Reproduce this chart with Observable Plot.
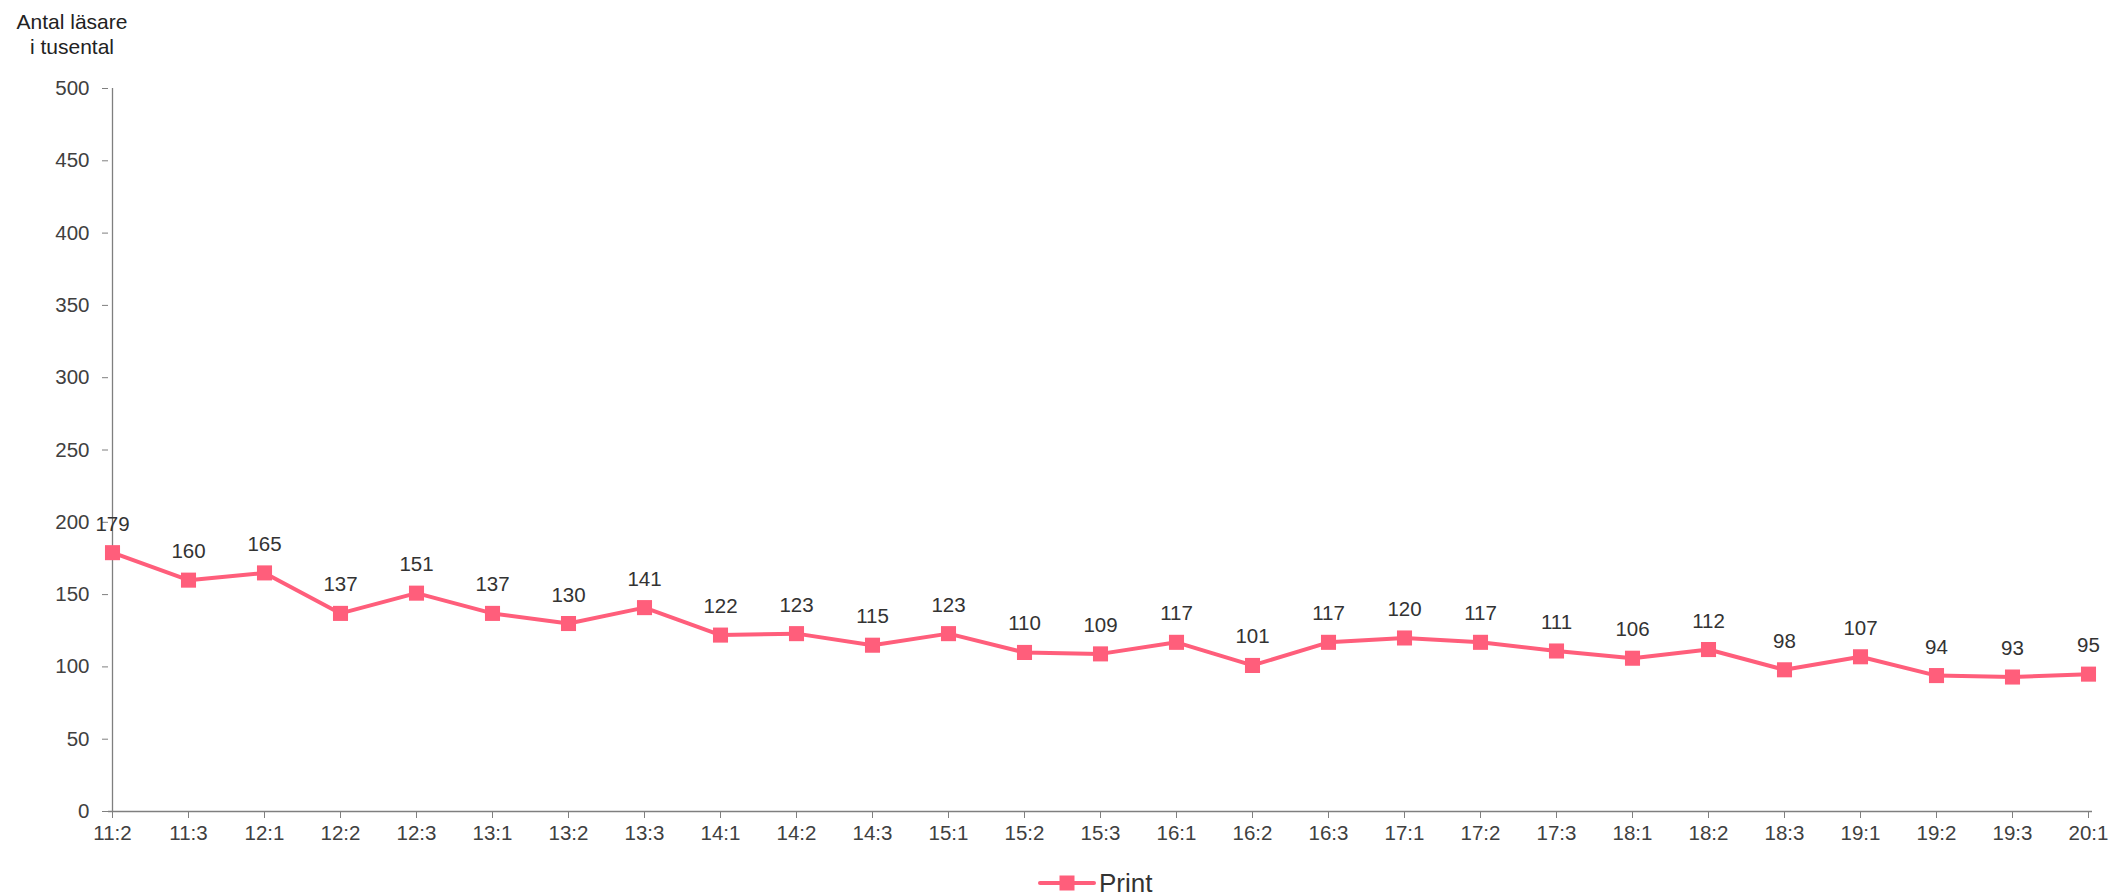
<!DOCTYPE html>
<html><head><meta charset="utf-8">
<script src="https://cdn.jsdelivr.net/npm/d3@7"></script>
<script src="https://cdn.jsdelivr.net/npm/@observablehq/plot@0.6"></script>
<style>
body{margin:0;background:#fff;font-family:"Liberation Sans",Arial,sans-serif;}
#wrap{position:relative;width:2114px;height:896px;overflow:hidden;}
#title{position:absolute;left:0px;top:9px;width:144px;text-align:center;font-size:21px;line-height:25px;color:#222;}
#chart{position:absolute;left:0;top:0;}
#legend{position:absolute;left:1038px;top:868px;height:30px;display:flex;align-items:center;font-size:26px;color:#333;}
#legend svg{margin-right:3px;}
</style></head><body>
<div id="wrap">
<div id="chart"></div>
<div id="title">Antal läsare<br>i tusental</div>
<div id="legend"></div>
</div>
<script>
const periods = ["11:2","11:3","12:1","12:2","12:3","13:1","13:2","13:3","14:1","14:2","14:3","15:1","15:2","15:3","16:1","16:2","16:3","17:1","17:2","17:3","18:1","18:2","18:3","19:1","19:2","19:3","20:1"];
const printValues = [179,160,165,137,151,137,130,141,122,123,115,123,110,109,117,101,117,120,117,111,106,112,98,107,94,93,95];
const yTicks = [0,50,100,150,200,250,300,350,400,450,500];
const seriesName = "Print";
const seriesColor = "#ff5e7b";

const data = periods.map((p, i) => ({period: p, value: printValues[i]}));

const chart = Plot.plot({
  width: 2114, height: 896,
  marginTop: 88, marginBottom: 85, marginLeft: 108, marginRight: 22,
  style: {fontFamily: '"Liberation Sans", Arial, sans-serif', fontSize: "20.5px", color: "#404040", background: "transparent"},
  x: {type: "point", domain: periods, padding: 0, label: null},
  y: {domain: [0, 500], label: null},
  marks: [
    Plot.ruleY([0], {stroke: "#7f7f7f", strokeWidth: 1.3}),
    Plot.ruleX([periods[0]], {stroke: "#7f7f7f", strokeWidth: 1.3}),
    Plot.axisY({ticks: yTicks, tickSize: 6, tickPadding: 13, label: null, stroke: "#7f7f7f", fill: "#404040", fontSize: 20.5}),
    Plot.axisX({tickSize: 7, tickPadding: 7, label: null, stroke: "#7f7f7f", fill: "#404040", fontSize: 20.5}),
    Plot.line(data, {x: "period", y: "value", stroke: seriesColor, strokeWidth: 4}),
    Plot.dot(data, {x: "period", y: "value", symbol: "square", r: 8.5, fill: seriesColor, stroke: "none"}),
    Plot.text(data, {x: "period", y: "value", text: d => String(d.value), dy: -22, lineAnchor: "bottom", fontSize: 20.5, fill: "#333"})
  ]
});
document.getElementById("chart").appendChild(chart);

const leg = document.getElementById("legend");
leg.innerHTML = `<svg width="58" height="20"><line x1="2" y1="10" x2="56" y2="10" stroke="${seriesColor}" stroke-width="4" stroke-linecap="round"/><rect x="21.5" y="2.5" width="15" height="15" fill="${seriesColor}"/></svg><span>${seriesName}</span>`;
</script>
</body></html>
